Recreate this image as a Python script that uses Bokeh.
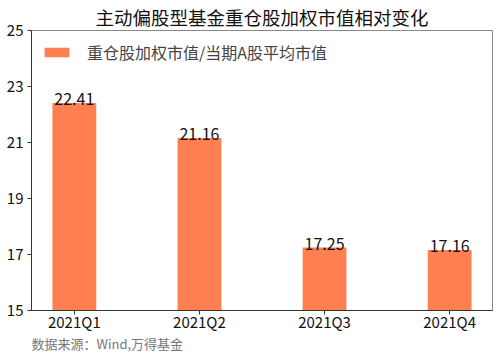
from bokeh.plotting import figure
from bokeh.models import ColumnDataSource, Range1d, FixedTicker, Title, Legend, LegendItem
from bokeh.core.properties import value
from bokeh.embed import file_html
from bokeh.resources import INLINE

quarters = ["2021Q1", "2021Q2", "2021Q3", "2021Q4"]
ratios = [22.41, 21.16, 17.25, 17.16]
y_ticks = [15, 17, 19, 21, 23, 25]
title_text = "主动偏股型基金重仓股加权市值相对变化"
series_name = "重仓股加权市值/当期A股平均市值"
source_text = "数据来源：Wind,万得基金"

FONT = "Noto Sans CJK SC"
xs = list(range(len(quarters)))
src = ColumnDataSource(dict(x=xs, top=ratios, label=[f"{v:.2f}" for v in ratios]))

p = figure(width=500, height=353, output_backend="svg", toolbar_location=None,
           x_range=Range1d(-0.3425, 3.3425), y_range=Range1d(15, 25),
           min_border_left=31, min_border_right=8, min_border_top=0, min_border_bottom=0)

bars = p.vbar(x="x", top="top", bottom=15, width=0.35, source=src,
              fill_color="#FF7F50", line_color=None)
p.text(x="x", y="top", text="label", source=src, text_align="center",
       text_baseline="bottom", text_font=value(FONT), text_font_size="16px",
       text_color="#111111", y_offset=2)

p.xgrid.visible = False
p.ygrid.visible = False
p.outline_line_color = "#888888"
p.outline_line_width = 1

p.xaxis.ticker = FixedTicker(ticks=xs)
p.xaxis.major_label_overrides = {i: q for i, q in enumerate(quarters)}
p.yaxis.ticker = FixedTicker(ticks=y_ticks)
for ax in (p.xaxis[0], p.yaxis[0]):
    ax.axis_line_color = "#333333"
    ax.major_tick_line_color = "#333333"
    ax.major_tick_out = 4
    ax.major_tick_in = 0
    ax.minor_tick_line_color = None
    ax.major_label_text_font = FONT
    ax.major_label_text_font_size = "15px"
    ax.major_label_text_color = "#111111"
p.xaxis.major_label_standoff = -4
p.yaxis.major_label_standoff = 4

legend = Legend(items=[LegendItem(label=series_name, renderers=[bars])],
                location="top_left", border_line_color=None, background_fill_alpha=0,
                label_text_font=FONT, label_text_font_size="16px",
                glyph_width=31, glyph_height=12, margin=10, padding=4, label_standoff=15)
p.add_layout(legend)

p.title = Title(text=title_text, align="center", text_font=FONT,
                text_font_size="18.5px", text_font_style="normal", text_color="#111111",
                standoff=2)
p.add_layout(Title(text=source_text, align="left", vertical_align="top", text_font=FONT,
                   text_font_size="13px", text_font_style="normal",
                   text_color="#777777", standoff=-2, offset=0), "below")

open("out.html", "w").write(file_html(p, INLINE))
